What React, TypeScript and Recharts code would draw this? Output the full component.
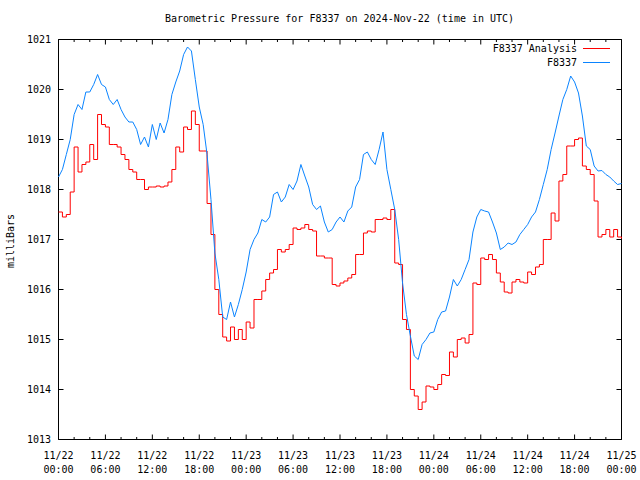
import { LineChart, Line, XAxis, YAxis, ReferenceLine, ReferenceArea } from "recharts"

// one reading every 30 minutes, starting 11/22 00:00 UTC
const analysisMb = [
  1017.55, 1017.45, 1017.5, 1017.95, 1018.85, 1018.35, 1018.5, 1018.55, 1018.9, 1018.6, 1019.5, 1019.3,
  1019.25, 1018.9, 1018.9, 1018.85, 1018.7, 1018.6, 1018.4, 1018.35, 1018.2, 1018.2, 1018.0, 1018.05,
  1018.05, 1018.07, 1018.05, 1018.07, 1018.15, 1018.4, 1018.85, 1018.75, 1019.25, 1019.2, 1019.57, 1019.3,
  1018.77, 1018.77, 1017.72, 1017.1, 1016.0, 1015.5, 1015.05, 1014.97, 1015.25, 1015.0, 1015.2, 1015.0,
  1015.35, 1015.23, 1015.8, 1015.8, 1015.97, 1016.2, 1016.33, 1016.4, 1016.8, 1016.75, 1016.8, 1016.9,
  1017.23, 1017.2, 1017.23, 1017.3, 1017.2, 1017.17, 1016.67, 1016.67, 1016.63, 1016.63, 1016.1, 1016.07,
  1016.13, 1016.17, 1016.23, 1016.3, 1016.7, 1016.7, 1017.13, 1017.17, 1017.15, 1017.4, 1017.4, 1017.43,
  1017.4, 1017.6, 1016.53, 1016.5, 1015.4, 1015.2, 1014.0, 1013.87, 1013.6, 1013.75, 1014.07, 1014.05,
  1014.0, 1014.1, 1014.3, 1014.28, 1014.75, 1014.65, 1015.0, 1015.03, 1014.93, 1015.1, 1016.13, 1016.1,
  1016.63, 1016.6, 1016.7, 1016.6, 1016.33, 1016.15, 1015.95, 1015.93, 1016.15, 1016.2, 1016.15, 1016.13,
  1016.35, 1016.3, 1016.45, 1016.5, 1017.0, 1017.0, 1017.53, 1017.37, 1018.17, 1018.3, 1018.87, 1018.87,
  1019.0, 1019.03, 1018.47, 1018.4, 1018.3, 1017.77, 1017.05, 1017.1, 1017.2, 1017.05, 1017.2, 1017.05,
  1017.02,
]

const stationMb = [
  1018.25, 1018.4, 1018.7, 1019.0, 1019.5, 1019.7, 1019.6, 1019.95, 1019.95, 1020.1, 1020.3, 1020.1,
  1020.05, 1019.8, 1019.7, 1019.8, 1019.6, 1019.45, 1019.35, 1019.35, 1019.2, 1018.9, 1019.05, 1018.85,
  1019.3, 1019.0, 1019.33, 1019.13, 1019.4, 1019.9, 1020.15, 1020.37, 1020.7, 1020.85, 1020.77, 1020.2,
  1019.65, 1019.3, 1018.7, 1017.8, 1016.73, 1016.2, 1015.45, 1015.4, 1015.75, 1015.45, 1015.7, 1016.0,
  1016.35, 1016.8, 1017.0, 1017.13, 1017.4, 1017.35, 1017.45, 1017.9, 1017.95, 1017.75, 1017.85, 1018.1,
  1018.0, 1018.17, 1018.5, 1018.27, 1018.05, 1017.7, 1017.6, 1017.67, 1017.35, 1017.15, 1017.2, 1017.35,
  1017.45, 1017.35, 1017.57, 1017.65, 1018.05, 1018.2, 1018.7, 1018.75, 1018.6, 1018.5, 1018.8, 1019.15,
  1018.4, 1018.0, 1017.6, 1017.0, 1016.13, 1015.5, 1015.07, 1014.67, 1014.6, 1014.9, 1015.0, 1015.13,
  1015.15, 1015.4, 1015.55, 1015.57, 1015.85, 1016.2, 1016.07, 1016.2, 1016.4, 1016.6, 1017.15, 1017.45,
  1017.6, 1017.57, 1017.55, 1017.35, 1017.13, 1016.8, 1016.85, 1016.93, 1016.9, 1016.95, 1017.1, 1017.2,
  1017.3, 1017.45, 1017.55, 1017.8, 1018.1, 1018.4, 1018.8, 1019.13, 1019.47, 1019.8, 1020.0, 1020.27,
  1020.15, 1019.93, 1019.47, 1018.87, 1018.8, 1018.47, 1018.37, 1018.38, 1018.3, 1018.25, 1018.17, 1018.1,
  1018.12,
]

const majorHours = [0, 6, 12, 18, 24, 30, 36, 42, 48, 54, 60, 66, 72]
const minorHours = [2, 4, 8, 10, 14, 16, 20, 22, 26, 28, 32, 34, 38, 40, 44, 46, 50, 52, 56, 58, 62, 64, 68, 70]
const tickDates = ["11/22", "11/22", "11/22", "11/22", "11/23", "11/23", "11/23", "11/23", "11/24", "11/24", "11/24", "11/24", "11/25"]
const tickTimes = ["00:00", "06:00", "12:00", "18:00", "00:00", "06:00", "12:00", "18:00", "00:00", "06:00", "12:00", "18:00", "00:00"]
const yTicks = [1013, 1014, 1015, 1016, 1017, 1018, 1019, 1020, 1021]

const RED = "#ff0000"
const BLUE = "#0a84ff"
const FONT = "'DejaVu Sans Mono', monospace"

const rows = stationMb.map((v, i) => ({ h: i * 0.5, station: v, analysis: analysisMb[i] }))

const XTick = ({ x, y, payload }: any) => {
  const i = majorHours.indexOf(payload.value)
  return (
    <g>
      <text x={x} y={y + 19} textAnchor="middle" fill="#000" fontSize={10} fontFamily={FONT}>{tickDates[i]}</text>
      <text x={x} y={y + 33} textAnchor="middle" fill="#000" fontSize={10} fontFamily={FONT}>{tickTimes[i]}</text>
    </g>
  )
}

const YTick = ({ x, y, payload }: any) => (
  <text x={x - 7.5} y={y + 3.5} textAnchor="end" fill="#000" fontSize={10} fontFamily={FONT}>{payload.value}</text>
)

const txt: any = { position: "absolute", fontFamily: FONT, fontSize: 10, lineHeight: "12px", color: "#000", whiteSpace: "nowrap" }

export default function App() {
  return (
    <div style={{ position: "absolute", left: 0, top: 0, width: 640, height: 480, background: "#fff" }}>
      <LineChart width={640} height={480} data={rows} margin={{ top: 39.5, right: 18.5, bottom: 0, left: 8.5 }}>
        <XAxis type="number" dataKey="h" domain={[0, 72]} ticks={majorHours} interval={0}
          height={40.5} tickSize={0} tickMargin={0} tickLine={false} axisLine={false} tick={<XTick />} />
        <YAxis type="number" domain={[1013, 1021]} ticks={yTicks} interval={0}
          width={50} tickSize={0} tickMargin={0} tickLine={false} axisLine={false} tick={<YTick />} />

        {majorHours.map((h) => (
          <ReferenceLine key={"bM" + h} segment={[{ x: h, y: 1013 }, { x: h, y: 1013.1 }]} stroke="#000" />
        ))}
        {majorHours.map((h) => (
          <ReferenceLine key={"tM" + h} segment={[{ x: h, y: 1021 }, { x: h, y: 1020.9 }]} stroke="#000" />
        ))}
        {minorHours.map((h) => (
          <ReferenceLine key={"bm" + h} segment={[{ x: h, y: 1013 }, { x: h, y: 1013.05 }]} stroke="#000" />
        ))}
        {minorHours.map((h) => (
          <ReferenceLine key={"tm" + h} segment={[{ x: h, y: 1021 }, { x: h, y: 1020.95 }]} stroke="#000" />
        ))}
        {yTicks.map((v) => (
          <ReferenceLine key={"l" + v} segment={[{ x: 0, y: v }, { x: 0.64, y: v }]} stroke="#000" />
        ))}
        {yTicks.map((v) => (
          <ReferenceLine key={"r" + v} segment={[{ x: 72, y: v }, { x: 71.36, y: v }]} stroke="#000" />
        ))}

        <Line type="stepAfter" dataKey="analysis" stroke={RED} strokeWidth={1} dot={false} isAnimationActive={false} />
        <Line type="linear" dataKey="station" stroke={BLUE} strokeWidth={1} dot={false} isAnimationActive={false} />

        <ReferenceArea x1={0} x2={72} y1={1013} y2={1021} fill="none" stroke="#000" strokeWidth={1} fillOpacity={0} />
      </LineChart>

      <div style={{ ...txt, left: 139.5, top: 13, width: 400, textAlign: "center" }}>
        Barometric Pressure for F8337 on 2024-Nov-22 (time in UTC)
      </div>
      <div style={{ ...txt, left: -29, top: 235, width: 80, textAlign: "center", transform: "rotate(-90deg)" }}>milliBars</div>

      <div style={{ ...txt, left: 437, top: 43, width: 140, textAlign: "right" }}>F8337 Analysis</div>
      <div style={{ ...txt, left: 437, top: 57, width: 140, textAlign: "right" }}>F8337</div>
      <svg width={640} height={480} style={{ position: "absolute", left: 0, top: 0, pointerEvents: "none" }}>
        <line x1={583} x2={610} y1={48.5} y2={48.5} stroke={RED} strokeWidth={1} />
        <line x1={583} x2={610} y1={62.5} y2={62.5} stroke={BLUE} strokeWidth={1} />
      </svg>
    </div>
  )
}
